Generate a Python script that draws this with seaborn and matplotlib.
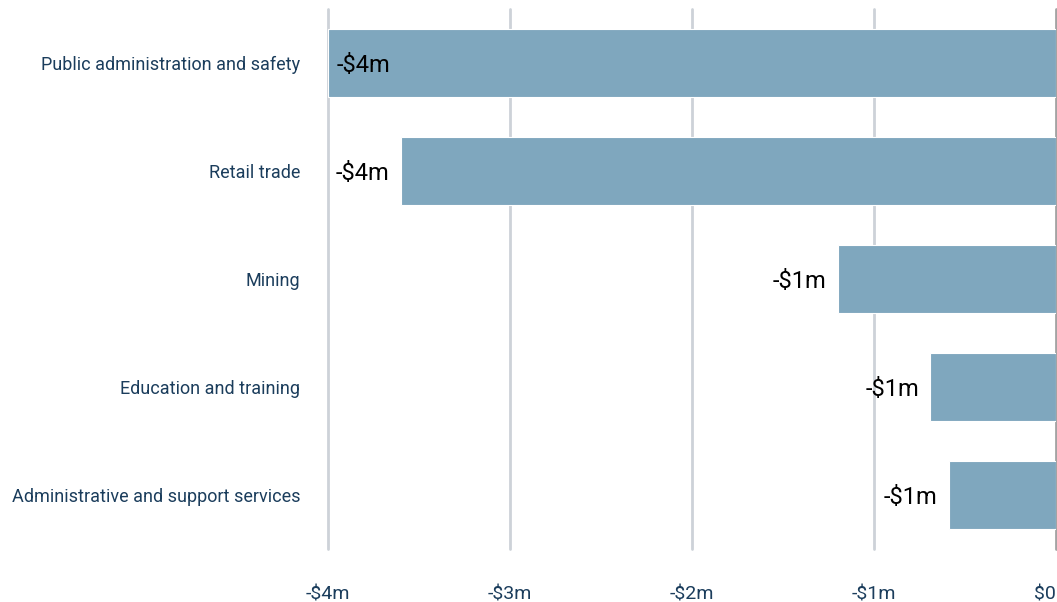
import matplotlib
matplotlib.use("Agg")
import matplotlib.pyplot as plt
import seaborn as sns
import pandas as pd
import numpy as np
from matplotlib.transforms import offset_copy

categories = [
    "Public administration and safety",
    "Retail trade",
    "Mining",
    "Education and training",
    "Administrative and support services",
]
values = [-4.0, -3.6, -1.2, -0.69, -0.59]  # $ millions
xticks = [-4, -3, -2, -1, 0]
xtick_labels = ["-$4m", "-$3m", "-$2m", "-$1m", "$0"]

sns.set_theme(style="white")
plt.rcParams["font.family"] = ["Roboto", "DejaVu Sans"]

df = pd.DataFrame({"category": categories, "value": values})

fig = plt.figure(figsize=(10.57, 6.02), dpi=100)
ax = fig.add_axes([328 / 1057, 1 - 549 / 602, (1056 - 328) / 1057, 540 / 602])

bar_color = "#7fa7be"
text_color = "#1b3d5c"

sns.barplot(data=df, x="value", y="category", orient="h", color=bar_color,
            saturation=1, width=0.63, edgecolor="white", linewidth=0.8,
            ax=ax, zorder=3)

ax.set_xlim(-4, 0)
ax.set_ylim(len(categories) - 0.5, -0.5)
ax.set_xticks(xticks)
ax.set_xticklabels(xtick_labels)
for x in xticks:
    if x == 0:
        ax.axvline(x, color="#a3a3a3", lw=2.0, zorder=2, clip_on=False)
    else:
        ax.axvline(x, color="#cdd2d8", lw=2.0, zorder=1, clip_on=False)

for s in ax.spines.values():
    s.set_visible(False)
ax.set_xlabel("")
ax.set_ylabel("")
ax.tick_params(axis="x", length=0, pad=26, labelsize=14, labelcolor=text_color)
ax.tick_params(axis="y", length=0, pad=20, labelsize=13, labelcolor=text_color)
# keep the last tick label inside the figure
ax.get_xticklabels()[-1].set_horizontalalignment("right")

xmin = ax.get_xlim()[0]
for i, v in enumerate(values):
    lbl = "-$%dm" % abs(round(v)) if round(v) != 0 else "$0m"
    if v - 0.36 < xmin:
        tr = offset_copy(ax.transData, fig=fig, x=9, y=-3, units="dots")
        ax.text(v, i, lbl, transform=tr, ha="left", va="center",
                fontsize=17, color="black", zorder=4)
    else:
        tr = offset_copy(ax.transData, fig=fig, x=-11, y=-3, units="dots")
        ax.text(v, i, lbl, transform=tr, ha="right", va="center",
                fontsize=17, color="black", zorder=4)

fig.savefig("out.png", dpi=100, facecolor="white")
